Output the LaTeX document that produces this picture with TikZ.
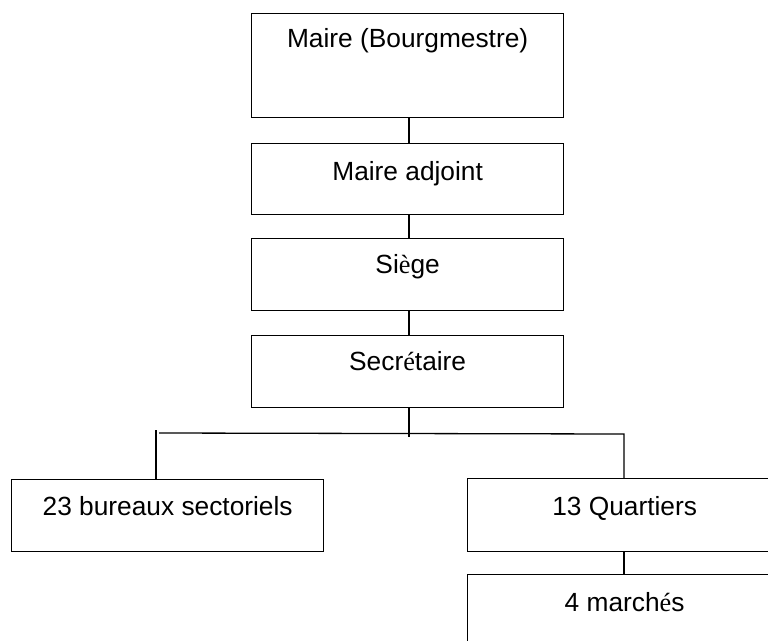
\documentclass[tikz,border=0pt]{standalone}
\usepackage{fontspec}
\setmainfont{Liberation Sans}
\newfontfamily\accf{Liberation Serif}
\begin{document}
\begin{tikzpicture}[x=1pt,y=-1pt,
  every node/.style={font=\fontsize{26.3}{31}\selectfont},
  orgbox/.style={draw, line width=1.3pt, inner xsep=0pt, inner ysep=0pt, align=center, anchor=north west},
  conn/.style={line width=1.3pt}]
\useasboundingbox (0,0) rectangle (768,640);
\node[orgbox, minimum width=312pt, text height=34pt, text depth=70pt] (b1) at (251,13) {Maire (Bourgmestre)};
\node[orgbox, minimum width=312pt, text height=37pt, text depth=34pt] (b2) at (251,143) {Maire adjoint};
\node[orgbox, minimum width=312pt, text height=35pt, text depth=37pt] (b3) at (251,238) {Si{\accf è}ge};
\node[orgbox, minimum width=312pt, text height=35pt, text depth=37pt] (b4) at (251,335) {Secr{\accf é}taire};
\node[orgbox, minimum width=312pt, text height=36pt, text depth=36pt] (b5) at (11,479) {23 bureaux sectoriels};
\node[orgbox, minimum width=314pt, text height=37pt, text depth=36pt] (b6) at (467,478) {13 Quartiers};
\node[orgbox, minimum width=314pt, text height=37pt, text depth=36pt] (b7) at (467,574) {4 march{\accf é}s};
\coordinate (sd) at (409,437);
\coordinate (hl) at (159,433);
\coordinate (hr) at (624,434);
\coordinate (sl) at (156,430);
\draw[conn] (b1.south -| sd) -- (b2.north -| sd);
\draw[conn] (b2.south -| sd) -- (b3.north -| sd);
\draw[conn] (b3.south -| sd) -- (b4.north -| sd);
\draw[conn] (b4.south -| sd) -- (sd);
\draw[conn] (hl) -- (hr) -- (b6.north -| hr);
\draw[conn] (sl) -- (sl |- b5.north);
\draw[conn] (b6.south -| hr) -- (b7.north -| hr);
\end{tikzpicture}
\end{document}
